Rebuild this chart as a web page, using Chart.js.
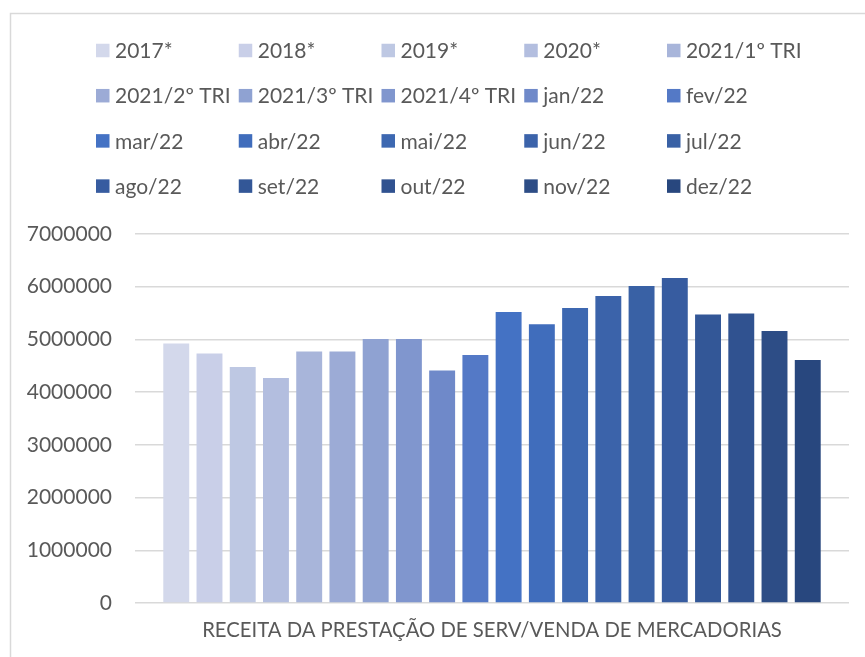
<!DOCTYPE html>
<html>
<head>
<meta charset="utf-8">
<script src="https://cdn.jsdelivr.net/npm/chart.js@4.4.0/dist/chart.umd.min.js"></script>
<style>
  html, body { margin: 0; padding: 0; background: #ffffff; }
  #wrap { width: 865px; height: 657px; position: relative; }
</style>
</head>
<body>
<div id="wrap"><canvas id="c" width="865" height="657"></canvas></div>
<script>
const categories = ["RECEITA DA PRESTAÇÃO DE SERV/VENDA DE MERCADORIAS"];
const seriesNames = ["2017*", "2018*", "2019*", "2020*", "2021/1º TRI",
  "2021/2º TRI", "2021/3º TRI", "2021/4º TRI", "jan/22", "fev/22",
  "mar/22", "abr/22", "mai/22", "jun/22", "jul/22",
  "ago/22", "set/22", "out/22", "nov/22", "dez/22"];
const seriesValues = [4925000, 4735000, 4475000, 4266000, 4773000,
  4773000, 5006000, 5006000, 4412000, 4703000,
  5519000, 5290000, 5595000, 5823000, 6013000,
  6165000, 5475000, 5494000, 5158000, 4608000];
const seriesColors = ["#D3D8EB", "#C9CFE8", "#BEC8E3", "#B3BEDF", "#A8B5DA",
  "#9CABD6", "#8FA2D2", "#8096CE", "#6F89C9", "#5479C6",
  "#4472C4", "#406DBC", "#3D68B1", "#3B63AA", "#3961A5",
  "#375CA0", "#335797", "#305290", "#2D4D86", "#28477E"];
const yTickValues = [0, 1000000, 2000000, 3000000, 4000000, 5000000, 6000000, 7000000];

const TEXT = "#595959";
const GRID = "#D9D9D9";

const datasets = seriesNames.map((name, i) => ({
  label: name,
  data: [seriesValues[i]],
  backgroundColor: seriesColors[i],
  borderWidth: 0,
  categoryPercentage: 0.931,
  barPercentage: 0.78
}));

const framePlugin = {
  id: "frame",
  beforeDraw(chart) {
    const ctx = chart.ctx;
    ctx.save();
    ctx.fillStyle = "#ffffff";
    ctx.fillRect(0, 0, chart.width, chart.height);
    ctx.strokeStyle = GRID;
    ctx.lineWidth = 1.5;
    ctx.strokeRect(10.5, 13.5, chart.width + 20, chart.height + 20);
    ctx.restore();
  }
};

const gridLegend = {
  id: "gridLegend",
  afterDraw(chart) {
    const ctx = chart.ctx;
    const cols = 5, x0 = 96, dx = 142.75, y0 = 50.5, dy = 45.2, box = 13.5;
    ctx.save();
    ctx.font = "21px Lato";
    ctx.textBaseline = "middle";
    ctx.textAlign = "left";
    chart.data.datasets.forEach((ds, i) => {
      const c = i % cols, r = Math.floor(i / cols);
      const x = x0 + c * dx, y = y0 + r * dy;
      ctx.fillStyle = ds.backgroundColor;
      ctx.fillRect(x, y - box / 2, box, box);
      ctx.fillStyle = TEXT;
      ctx.fillText(ds.label, x + box + 5.5, y + 1);
    });
    ctx.restore();
  }
};

new Chart(document.getElementById("c"), {
  type: "bar",
  data: { labels: categories, datasets: datasets },
  options: {
    responsive: false,
    animation: false,
    devicePixelRatio: 1,
    layout: { padding: { top: 234, right: 16, left: 0, bottom: 0 } },
    plugins: {
      legend: { display: false },
      tooltip: { enabled: false },
      title: { display: false }
    },
    scales: {
      x: {
        grid: { display: false, drawTicks: false },
        border: { display: false },
        ticks: { color: TEXT, font: { family: "Lato", size: 20.3 }, padding: 15 },
        afterFit(scale) { scale.height = 657 - 603; }
      },
      y: {
        min: 0,
        max: 7000000,
        afterBuildTicks(scale) { scale.ticks = yTickValues.map(v => ({ value: v })); },
        grid: { color: GRID, lineWidth: 1.5, drawTicks: false },
        border: { display: false },
        ticks: {
          color: TEXT,
          font: { family: "Lato", size: 21 },
          padding: 23,
          callback: v => String(v)
        },
        afterFit(scale) { scale.width = 135; }
      }
    }
  },
  plugins: [framePlugin, gridLegend]
});
</script>
</body>
</html>
